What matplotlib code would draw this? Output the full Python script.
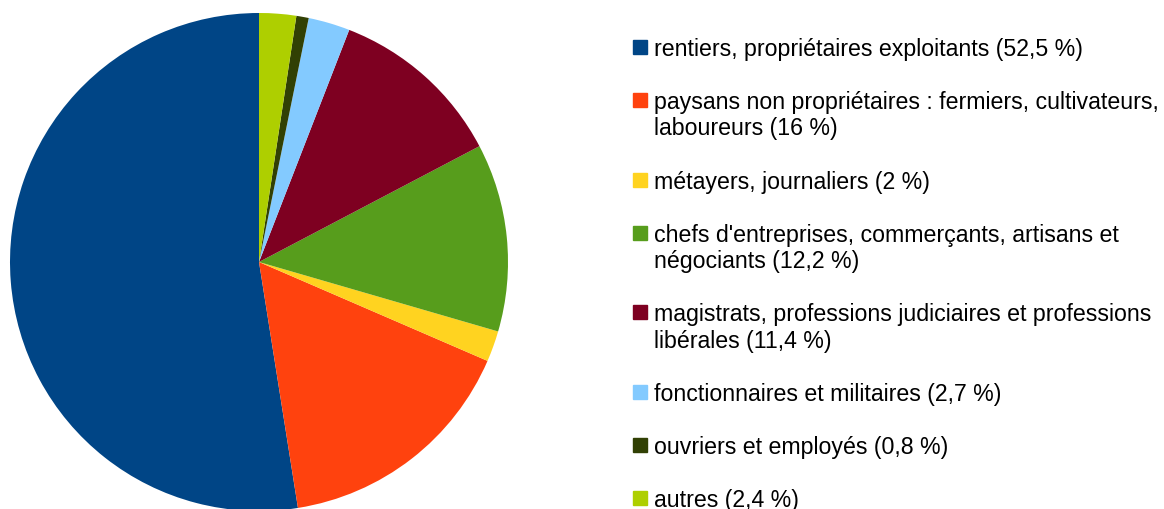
import matplotlib
matplotlib.use("Agg")
import matplotlib.pyplot as plt
from matplotlib.patches import Rectangle

# categories and shares (%)
labels = [
    "rentiers, propriétaires exploitants",
    "paysans non propriétaires : fermiers, cultivateurs,\nlaboureurs",
    "métayers, journaliers",
    "chefs d'entreprises, commerçants, artisans et\nnégociants",
    "magistrats, professions judiciaires et professions\nlibérales",
    "fonctionnaires et militaires",
    "ouvriers et employés",
    "autres",
]
shares = [52.5, 16, 2, 12.2, 11.4, 2.7, 0.8, 2.4]
colors = ["#004586", "#ff420e", "#ffd320", "#579d1c",
          "#7e0021", "#83caff", "#314004", "#aecf00"]

plt.rcParams['font.family'] = ['Liberation Sans', 'DejaVu Sans']

W, H = 1164, 510
fig = plt.figure(figsize=(W / 100, H / 100), dpi=100)

# pie: center (259, 263) px, radius 249 px
cx, cy, r = 259, 263, 249
ax = fig.add_axes([(cx - r) / W, (H - cy - r) / H, 2 * r / W, 2 * r / H])
ax.pie(shares, colors=colors, startangle=90, counterclock=True,
       radius=1, wedgeprops=dict(linewidth=0))
ax.set_xlim(-1, 1)
ax.set_ylim(-1, 1)
ax.set_aspect('equal')
ax.axis('off')

def fmt(v):
    s = ("%g" % v).replace(".", ",")
    return s + " %"

# legend drawn by hand so the marker sits on the first line
line_h = 26.3
gap = 26.9
y = 48.0  # center of first line, px from top
box = 14
for lab, v, c in zip(labels, shares, colors):
    lines = (lab + " (" + fmt(v) + ")").split("\n")
    fig.patches.append(Rectangle(((633) / W, (H - y - box / 2) / H),
                                 box / W, box / H, color=c,
                                 transform=fig.transFigure, figure=fig))
    for i, ln in enumerate(lines):
        yy = y + i * line_h
        fig.text(654 / W, (H - yy - 8) / H, ln, fontsize=16.7,
                 va='baseline', ha='left', color='#000000')
    y += len(lines) * line_h + gap

fig.savefig("out.png", dpi=100)
